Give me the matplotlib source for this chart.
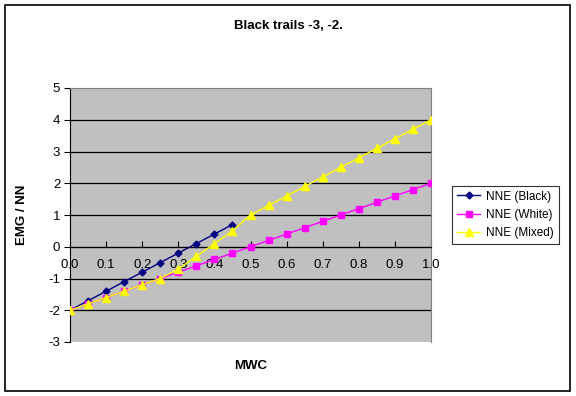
import matplotlib
matplotlib.use("Agg")
import matplotlib.pyplot as plt
from matplotlib.patches import Rectangle

# data
mwc = [0.0, 0.05, 0.1, 0.15, 0.2, 0.25, 0.3, 0.35, 0.4, 0.45, 0.5,
       0.55, 0.6, 0.65, 0.7, 0.75, 0.8, 0.85, 0.9, 0.95, 1.0]
nne_black = [-2.0, -1.7, -1.4, -1.1, -0.8, -0.5, -0.2, 0.1, 0.4, 0.7]
nne_white = [-2.0, -1.8, -1.6, -1.4, -1.2, -1.0, -0.8, -0.6, -0.4, -0.2, 0.0,
             0.2, 0.4, 0.6, 0.8, 1.0, 1.2, 1.4, 1.6, 1.8, 2.0]
nne_mixed = [-2.0, -1.8, -1.6, -1.4, -1.2, -1.0, -0.7, -0.3, 0.1, 0.5, 1.0,
             1.3, 1.6, 1.9, 2.2, 2.5, 2.8, 3.1, 3.4, 3.7, 4.0]
xticks = [0.0, 0.1, 0.2, 0.3, 0.4, 0.5, 0.6, 0.7, 0.8, 0.9, 1.0]
yticks = [-3, -2, -1, 0, 1, 2, 3, 4, 5]

plt.rcParams['font.family'] = ['Liberation Sans', 'DejaVu Sans']
plt.rcParams['axes.unicode_minus'] = False

W, H = 576, 396
fig = plt.figure(figsize=(W / 100, H / 100), dpi=100)
fig.patch.set_facecolor('white')
ax = fig.add_axes([70 / W, 1 - 342 / H, (431 - 70) / W, (342 - 88) / H])
ax.set_facecolor('#C0C0C0')

# outer chart border
fig.patches.append(Rectangle((5 / W, 5 / H), 565 / W, 386 / H, transform=fig.transFigure,
                             fill=False, edgecolor='black', linewidth=1.2))

for y in yticks[1:-1]:
    ax.axhline(y, color='black', linewidth=0.9, zorder=1)

ax.plot(mwc[:len(nne_black)], nne_black, color='#000080', marker='D', markersize=3.5,
        linewidth=1, label='NNE (Black)', zorder=3)
ax.plot(mwc, nne_white, color='#FF00FF', marker='s', markersize=5,
        linewidth=1, label='NNE (White)', zorder=3)
ax.plot(mwc, nne_mixed, color='#FFFF00', marker='^', markersize=6,
        linewidth=1, label='NNE (Mixed)', zorder=4)

ax.set_xlim(0, 1.0)
ax.set_ylim(-3, 5)
ax.set_xticks(xticks)
ax.set_xticklabels(['%.1f' % v for v in xticks])
ax.set_yticks(yticks)

ax.spines['bottom'].set_position(('data', 0))
ax.spines['bottom'].set_color('black')
ax.spines['left'].set_color('black')
ax.spines['top'].set_color('#808080')
ax.spines['right'].set_color('#808080')
ax.tick_params(axis='x', direction='in', length=4, pad=9, labelsize=9.5)
ax.tick_params(axis='y', direction='out', length=4, pad=3, labelsize=9.5)

fig.text(288 / W, 1 - 26 / H, 'Black trails -3, -2.', ha='center', va='center',
         fontsize=9.5, fontweight='bold')
fig.text(251 / W, 1 - 366 / H, 'MWC', ha='center', va='center',
         fontsize=9.5, fontweight='bold')
fig.text(22 / W, 1 - 215 / H, 'EMG / NN', ha='center', va='center', rotation=90,
         fontsize=9.5, fontweight='bold')

leg = fig.legend(loc='center left', bbox_to_anchor=(452 / W, 1 - 215 / H),
                 fontsize=8.5, frameon=True, fancybox=False, borderpad=0.4,
                 handlelength=2.0, handletextpad=0.5, labelspacing=0.55,
                 borderaxespad=0)
leg.get_frame().set_edgecolor('black')
leg.get_frame().set_linewidth(0.8)

fig.savefig('out.png', dpi=100)
